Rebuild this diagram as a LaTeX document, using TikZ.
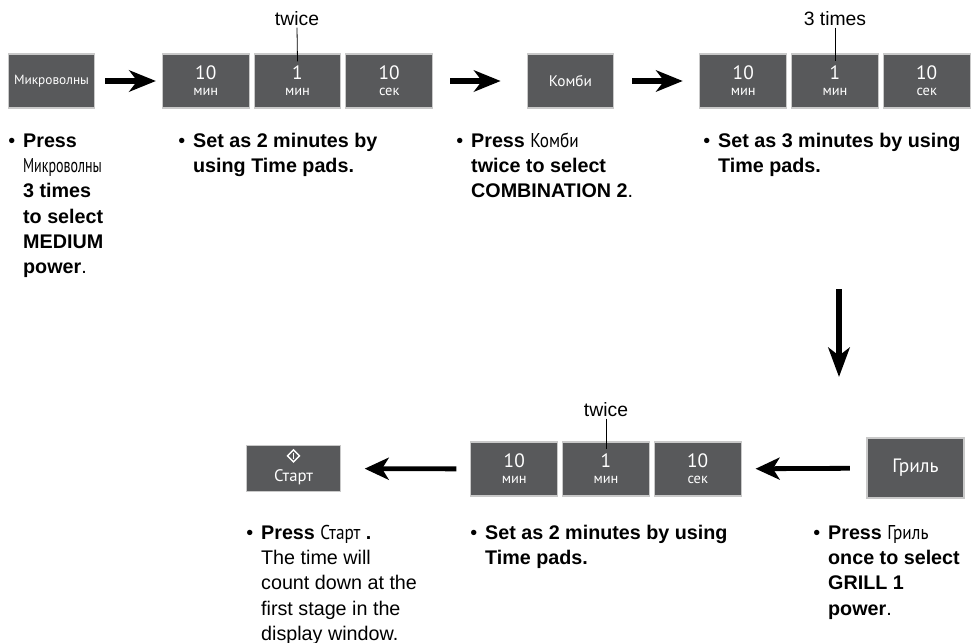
\documentclass[tikz,border=0pt]{standalone}
\usepackage{fontspec}
\setmainfont{Liberation Sans}
\newfontfamily\keyfont{PT Sans}
\newfontfamily\keyinline[FakeStretch=0.86]{PT Sans}
\newfontfamily\keynarrow[FakeStretch=0.7]{PT Sans}
\usetikzlibrary{positioning, arrows.meta}

\definecolor{padgray}{HTML}{58595B}
\definecolor{padrim}{HTML}{C9C9C9}

\newcommand{\padtext}[2]{\raisebox{-2pt}{\fontsize{14.5}{13}\selectfont #1}\\[2pt]{\fontsize{10.8}{10}\selectfont #2}}
\newcommand{\steptext}[1]{\begin{tabular}{@{}l@{\hspace{6pt}}l@{}}#1\end{tabular}}
\newcommand{\inkey}[1]{{\keyinline\fontsize{15}{18.8}\selectfont #1}}

\tikzset{
  key/.style={draw=padrim, line width=0.8pt, fill=padgray, text=white,
              minimum width=65pt, minimum height=40.5pt, inner sep=0pt,
              align=center, font=\keyfont\fontsize{10}{12}\selectfont},
  pad/.style={key},
  go/.style={-{Stealth[length=20pt,width=16pt,inset=6pt]}, line width=4.5pt},
  go back/.style={-{Stealth[length=18pt,width=16.5pt,inset=5pt]}, line width=3.6pt},
  desc/.style={anchor=north west, inner sep=0pt, align=left,
               font=\fontsize{14.8}{18.8}\selectfont},
  note/.style={inner sep=1pt, font=\fontsize{14.5}{16}\selectfont},
}

\begin{document}
\begin{tikzpicture}[x=0.75pt, y=-0.75pt]
    \useasboundingbox (0,0) rectangle (972,643);

    % first row
    \node[key] (micro) at (51.5,81) {Микроволны};
    \node[pad] (a2) at (297.5,81) {\padtext{1}{мин}};
    \node[pad, left=3pt of a2] (a1) {\padtext{10}{мин}};
    \node[pad, right=3pt of a2] (a3) {\padtext{10}{сек}};
    \node[key, font=\keyfont\fontsize{11.5}{12}\selectfont] (combi) at (570.5,81) {Комби};
    \node[pad] (b2) at (835,81) {\padtext{1}{мин}};
    \node[pad, left=3pt of b2] (b1) {\padtext{10}{мин}};
    \node[pad, right=3pt of b2] (b3) {\padtext{10}{сек}};

    \node[note] (tw1) at (297,19) {twice};
    \node[note] (tw2) at (835,19) {3 times};
    \draw[line width=0.6pt] (tw1.south) -- ([yshift=-6pt]a2.north);
    \draw[line width=0.6pt] (tw2.south) -- ([yshift=-6pt]b2.north);

    \draw[go, shorten <=7.5pt, shorten >=4.5pt] (micro) -- (a1);
    \draw[go, shorten <=13pt, shorten >=19.5pt] (a3) -- (combi);
    \draw[go, shorten <=13.5pt, shorten >=12.5pt] (combi) -- (b1);

    \node[desc] (t1) at (8,130) {\steptext{%
        • & \textbf{Press}\\
          & {\keynarrow\fontsize{15}{18.8}\selectfont Микроволны}\\
          & \textbf{3 times}\\
          & \textbf{to select}\\
          & \textbf{MEDIUM}\\
          & \textbf{power}.}};
    \node[desc] (t2) at (178,130) {\steptext{%
        • & \textbf{Set as 2 minutes by}\\
          & \textbf{using Time pads.}}};
    \node[desc] (t3) at (456,130) {\steptext{%
        • & \textbf{Press} \inkey{Комби}\\
          & \textbf{twice to select}\\
          & \textbf{COMBINATION 2}.}};
    \node[desc] (t4) at (703,130) {\steptext{%
        • & \textbf{Set as 3 minutes by using}\\
          & \textbf{Time pads.}}};

    % turn down
    \coordinate (down top) at (839,289);
    \coordinate (down end) at (839,377);
    \draw[-{Stealth[length=22pt,width=16pt,inset=6pt]}, line width=4pt] (down top) -- (down end);

    % second row
    \node[key, minimum width=72.75pt, minimum height=45pt,
          font=\keyfont\fontsize{14.5}{14}\selectfont] (grill) at (915.5,468) {Гриль};
    \node[pad] (c2) at (606,469) {\padtext{1}{мин}};
    \node[pad, left=3pt of c2] (c1) {\padtext{10}{мин}};
    \node[pad, right=3pt of c2] (c3) {\padtext{10}{сек}};
    \node[key, minimum width=70pt, minimum height=35pt] (start) at (293.5,468.5) {};
    \node[text=white, inner sep=0pt, font=\keyfont\fontsize{12.5}{12}\selectfont]
        (start label) at ([yshift=-6.5pt]start.center) {Старт};
    \draw[white, line width=1pt] ([yshift=9.5pt]start.center) ++(0,4.5pt)
        -- ++(4.5pt,-4.5pt) -- ++(-4.5pt,-4.5pt) -- ++(-4.5pt,4.5pt) -- cycle;
    \draw[white, line width=1.1pt] ([yshift=12pt]start.center) -- ([yshift=7pt]start.center);

    \node[note] (tw3) at (606,410) {twice};
    \draw[line width=0.6pt] (tw3.south) -- ([yshift=-6pt]c2.north);

    \draw[go back, shorten <=12.5pt, shorten >=10.5pt] (grill) -- (c3);
    \draw[go back, shorten <=10.5pt, shorten >=18pt] (c1) -- (start);

    \node[desc] (t5) at (246,522) {\steptext{%
        • & \textbf{Press} \inkey{Старт} \textbf{.}\\
          & The time will\\
          & count down at the\\
          & first stage in the\\
          & display window.}};
    \node[desc] (t6) at (470,522) {\steptext{%
        • & \textbf{Set as 2 minutes by using}\\
          & \textbf{Time pads.}}};
    \node[desc] (t7) at (813,522) {\steptext{%
        • & \textbf{Press} \inkey{Гриль}\\
          & \textbf{once to select}\\
          & \textbf{GRILL 1}\\
          & \textbf{power}.}};
\end{tikzpicture}
\end{document}
